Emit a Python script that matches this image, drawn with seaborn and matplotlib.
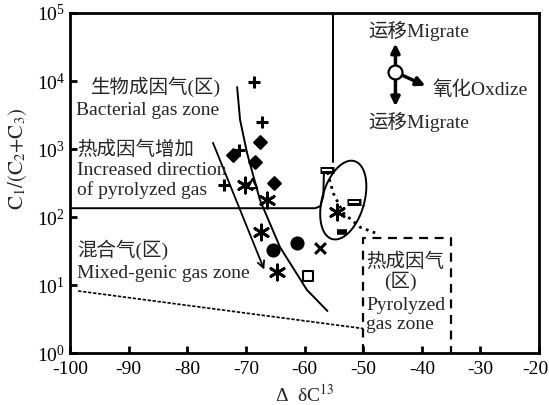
import numpy as np
import pandas as pd
import seaborn as sns
import matplotlib.pyplot as plt
import matplotlib.transforms as mtrans

# sample points (delta dC13, C1/(C2+C3))
plus_x = [-68.6, -67.2, -73.7, -71.2]
plus_y = [9700, 2500, 295, 970]
diamond_x = [-67.6, -72.2, -68.4, -65.2]
diamond_y = [1260, 820, 645, 316]
star_x = [-70.1, -66.4, -67.4, -64.7, -54.4]
star_y = [295, 178, 60, 15.5, 118]
tri_x = [-68.9]
tri_y = [316]
circle_x = [-65.4, -61.3]
circle_y = [33, 41.5]
cross_x = [-57.3]
cross_y = [35]
square_x = [-59.4]
square_y = [13.5]
rect_x = [-56.1, -51.5]
rect_y = [490, 166]
frect_x = [-53.6]
frect_y = [60]

# zone boundaries
hline_x = [-100, -58.2, -57.3, -56.8, -56.7]
hline_y = [135, 135, 10**2.16, 10**2.31, 10**2.66]
vline_x = [-55.1, -55.1]
vline_y = [1e5, 645]
curve_x = [-71.5, -71.0, -69.8, -67.6, -64.2, -59.6, -56.1]
curve_y = [10**3.91, 10**3.43, 10**2.94, 10**2.25, 10**1.56, 10**0.93, 10**0.62]
dot_x = [-56.1, -55.1, -53.4, -50.5, -47.4]
dot_y = [10**2.66, 10**2.35, 10**2.06, 10**1.85, 10**1.75]
low_x = [-98.6, -50]
low_y = [8.2, 2.3]
box_x = [-50, -50, -35, -35]
box_y = [1, 49, 49, 1]

sns.set_theme(style="ticks")
plt.rcParams['font.family'] = ['Liberation Serif', 'Noto Sans CJK SC']
plt.rcParams['mathtext.fontset'] = 'stix'
plt.rcParams['axes.unicode_minus'] = False

fig = plt.figure(figsize=(5.49, 4.05), dpi=100)
ax = fig.add_axes([0.1275, 0.128, 0.8545, 0.84])
ax.set_yscale('log')

k = 'black'
def pts(x, y, marker, size, filled=True, lw=1.5):
    df = pd.DataFrame({'x': x, 'y': y})
    if filled:
        sns.scatterplot(data=df, x='x', y='y', marker=marker, s=size, color=k,
                        edgecolor=k, linewidth=lw, ax=ax, zorder=5)
    else:
        sns.scatterplot(data=df, x='x', y='y', marker=marker, s=size, facecolor='white',
                        edgecolor=k, linewidth=lw, ax=ax, zorder=5)

pts(plus_x, plus_y, '+', 75, lw=2.2)
pts(diamond_x, diamond_y, 'D', 42)
pts(star_x, star_y, (6, 2, 0), 120, lw=2)
pts(tri_x, tri_y, '^', 45, filled=False)
pts(circle_x, circle_y, 'o', 75)
pts(cross_x, cross_y, 'x', 60, lw=2.2)
pts(square_x, square_y, 's', 60, filled=False)
pts(rect_x, rect_y, '_', 90, lw=5)
ax.scatter(rect_x, rect_y, marker='_', s=45, linewidths=1.4, color='white', zorder=6)
pts(frect_x, frect_y, '_', 60, lw=4)

ax.plot(hline_x, hline_y, color=k, lw=1.4)
ax.plot(vline_x, vline_y, color=k, lw=1.4)
ax.plot(curve_x, curve_y, color=k, lw=1.4)
ax.plot(dot_x, dot_y, color=k, lw=2, linestyle=(0, (1, 1.6)))
ax.plot(low_x, low_y, color=k, lw=1.2, linestyle=(0, (2, 1)))
ax.plot(box_x, box_y, color=k, lw=1.6, linestyle=(0, (4, 3)))

# ellipse around samples
cx, cy, ea, eb, ang = -53.4, 2.25, 21, 40.5, np.deg2rad(16)
t = np.linspace(0, 2 * np.pi, 200)
u = ea * np.cos(t)
v = eb * np.sin(t)
ux = u * np.cos(ang) + v * np.sin(ang)
vy = -u * np.sin(ang) + v * np.cos(ang)
ax.plot(cx + ux / 5.86, 10 ** (cy + vy / 68), color=k, lw=1.4)

# increasing direction arrow
ax.annotate('', xy=(-66.7, 15.5), xytext=(-75.8, 1350),
            arrowprops=dict(arrowstyle='->', color=k, lw=1.3, mutation_scale=12))

# migrate / oxidize arrows
o = (-44.5, 10**4.13)
for tip in [(-44.5, 10**4.55), (-44.5, 10**3.63), (-39.4, 10**3.93)]:
    ax.annotate('', xy=tip, xytext=o,
                arrowprops=dict(arrowstyle='-|>', color=k, lw=2.5, mutation_scale=13,
                                shrinkA=4, shrinkB=0))
ax.plot([o[0]], [o[1]], 'o', ms=10, mfc='white', mec=k, mew=1.6, zorder=6)

fs = 14
ax.text(-96.5, 8100, '生物成因气(区)', fontsize=fs, va='center')
ax.text(-99, 3700, 'Bacterial gas zone', fontsize=fs, va='center')
ax.text(-98.8, 970, '热成因气增加', fontsize=fs, va='center')
ax.text(-98.8, 490, 'Increased direction', fontsize=fs, va='center')
ax.text(-98.8, 250, 'of pyrolyzed gas', fontsize=fs, va='center')
ax.text(-98.8, 33, '混合气(区)', fontsize=fs, va='center')
ax.text(-98.8, 15, 'Mixed-genic gas zone', fontsize=fs, va='center')
ax.text(-49.5, 22, '热成因气', fontsize=fs, va='center')
ax.text(-43.7, 11.5, '(区)', fontsize=fs, va='center', ha='center')
ax.text(-49.5, 5.1, 'Pyrolyzed', fontsize=fs, va='center')
ax.text(-49.5, 2.6, 'gas zone', fontsize=fs, va='center')
ax.text(-40.6, 55000, '运移Migrate', fontsize=fs, va='center', ha='center')
ax.text(-38.2, 7400, '氧化Oxdize', fontsize=fs, va='center')
ax.text(-40.6, 2500, '运移Migrate', fontsize=fs, va='center', ha='center')

ax.set_xlim(-100, -20)
ax.set_ylim(1, 1e5)
ax.set_xticks(range(-100, -19, 10))
ax.set_yticks([1, 10, 100, 1e3, 1e4, 1e5])
ax.minorticks_off()
ax.tick_params(direction='in', length=5, width=2, labelsize=14, colors=k)
ax.tick_params(axis='x', pad=6)
# keep the last x label inside the figure
last = ax.get_xticklabels()[-1]
last.set_transform(last.get_transform() + mtrans.ScaledTranslation(-3 / 72, 0, fig.dpi_scale_trans))
ax.set_xlabel('Δ  δC$^{13}$', fontsize=14, labelpad=4)
ax.set_ylabel(r'$\mathrm{C}_1/(\mathrm{C}_2\mathrm{+C}_3)$', fontsize=15)
ax.yaxis.set_label_coords(-0.088, 0.57)
for s in ax.spines.values():
    s.set_linewidth(2)
    s.set_color(k)

fig.savefig('out.png', dpi=100)
